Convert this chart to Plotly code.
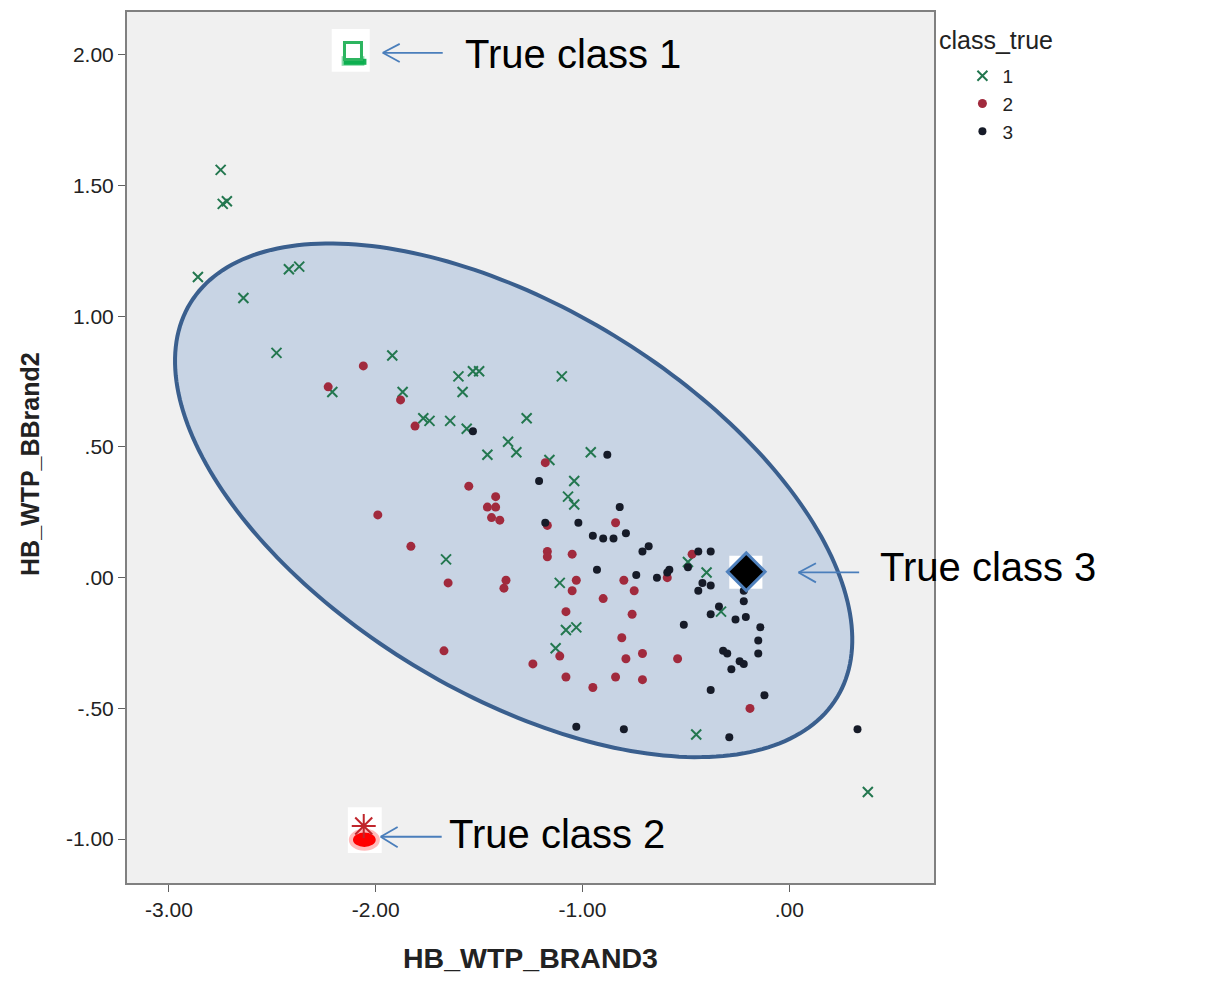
import numpy as np
import plotly.graph_objects as go

# ---------------- data ----------------
c1_x = [-2.75, -2.74, -2.72, -2.86, -2.64, -2.42, -2.37, -2.48, -1.92, -2.21, -1.87, -1.77, -1.74,
        -1.60, -1.53, -1.50, -1.58, -1.10, -1.64, -1.56, -1.27, -1.36, -1.32, -1.46, -1.16, -0.96,
        -1.04, -1.07, -1.04, -1.66, -1.11, -1.08, -1.03, -1.13, -0.49, -0.40, -0.33, -0.45, 0.38]
c1_y = [1.56, 1.43, 1.44, 1.15, 1.07, 1.18, 1.19, 0.86, 0.85, 0.71, 0.71, 0.61, 0.60,
        0.77, 0.79, 0.79, 0.71, 0.77, 0.60, 0.57, 0.61, 0.52, 0.48, 0.47, 0.45, 0.48,
        0.37, 0.31, 0.28, 0.07, -0.02, -0.20, -0.19, -0.27, 0.06, 0.02, -0.13, -0.60, -0.82]

c2_x = [-2.06, -2.23, -1.88, -1.81, -1.55, -1.42, -1.46, -1.42, -1.44, -1.40, -1.99, -1.18, -0.84,
        -1.17, -1.83, -1.17, -1.17, -1.05, -1.03, -1.05, -0.80, -0.75, -0.90, -1.08, -0.76, -1.65,
        -1.37, -1.38, -0.81, -1.11, -0.71, -0.79, -0.54, -1.24, -1.67, -1.08, -0.84, -0.71, -0.95,
        -0.19, -0.47, -0.59]
c2_y = [0.81, 0.73, 0.68, 0.58, 0.35, 0.31, 0.27, 0.27, 0.23, 0.22, 0.24, 0.44, 0.21,
        0.20, 0.12, 0.10, 0.08, 0.09, -0.01, -0.05, -0.01, -0.05, -0.08, -0.13, -0.14, -0.02,
        -0.01, -0.04, -0.23, -0.30, -0.29, -0.31, -0.31, -0.33, -0.28, -0.38, -0.38, -0.39, -0.42,
        -0.50, 0.09, 0.00]

c3_x = [-1.53, -0.88, -1.21, -0.82, -1.18, -1.02, -0.95, -0.90, -0.85, -0.79, -0.68, -0.71, -0.93,
        -0.74, -0.64, -0.58, -0.59, -0.49, -0.44, -0.38, -0.42, -0.38, -0.44, -0.22, -0.22, -0.34,
        -0.38, -0.26, -0.21, -0.51, -0.14, -0.15, -0.15, -0.32, -0.30, -0.24, -0.22, -0.28, -0.38,
        -0.12, -1.03, -0.80, -0.29, 0.33]
c3_y = [0.56, 0.47, 0.37, 0.27, 0.21, 0.21, 0.16, 0.15, 0.15, 0.17, 0.12, 0.10, 0.03,
        0.01, 0.00, 0.03, 0.02, 0.04, 0.10, 0.10, -0.02, -0.03, -0.05, -0.05, -0.09, -0.11,
        -0.14, -0.16, -0.15, -0.18, -0.19, -0.24, -0.29, -0.28, -0.29, -0.32, -0.33, -0.35, -0.43,
        -0.45, -0.57, -0.58, -0.61, -0.58]

# "true class" centroids highlighted in the picture
true_x = [-2.11, -2.058, -0.208]
true_y = [2.015, -0.95, 0.023]
true_labels = ["True class 1", "True class 2", "True class 3"]

x_tickvals = [-3, -2, -1, 0]
x_ticktext = ["-3.00", "-2.00", "-1.00", ".00"]
y_tickvals = [2, 1.5, 1, 0.5, 0, -0.5, -1]
y_ticktext = ["2.00", "1.50", "1.00", ".50", ".00", "-.50", "-1.00"]

# ellipse parameters (data units)
ell_center = (-1.333, 0.296)
ell_major = (1.564, -0.754)
ell_minor = (-0.486, -0.630)

FONT = "Liberation Sans, Arial"

# ---------------- figure ----------------
fig = go.Figure()
shapes = []

t = np.linspace(0, 2 * np.pi, 240, endpoint=False)
ex = ell_center[0] + ell_major[0] * np.cos(t) + ell_minor[0] * np.sin(t)
ey = ell_center[1] + ell_major[1] * np.cos(t) + ell_minor[1] * np.sin(t)
path = "M " + " L ".join(f"{a:.4f},{b:.4f}" for a, b in zip(ex, ey)) + " Z"
shapes.append(dict(type="path", xref="x", yref="y", path=path, fillcolor="#c8d4e4",
                   line=dict(color="#3a5f8e", width=4), layer="below"))

# white boxes behind the true-class icons
boxes = [(-2.213, -2.029, 1.935, 2.099), (-2.135, -1.971, -1.053, -0.878), (-0.290, -0.130, -0.042, 0.084)]
for x0, x1, y0, y1 in boxes:
    shapes.append(dict(type="rect", xref="x", yref="y", x0=x0, x1=x1, y0=y0, y1=y1,
                       fillcolor="white", line=dict(width=0), layer="below"))
# green glow under class 1 icon, red glow under class 2 icon
shapes.append(dict(type="rect", xref="x", yref="y", x0=-2.165, x1=-2.055, y0=1.958, y1=1.995,
                   fillcolor="rgba(40,190,100,0.55)", line=dict(width=0), layer="below"))
shapes.append(dict(type="rect", xref="x", yref="y", x0=-2.155, x1=-2.045, y0=1.962, y1=1.985,
                   fillcolor="rgba(0,170,70,0.9)", line=dict(width=0), layer="below"))
shapes.append(dict(type="circle", xref="x", yref="y", x0=-2.13, x1=-1.98, y0=-1.045, y1=-0.96,
                   fillcolor="rgba(255,60,60,0.35)", line=dict(width=0), layer="below"))
shapes.append(dict(type="circle", xref="x", yref="y", x0=-2.11, x1=-2.0, y0=-1.03, y1=-0.975,
                   fillcolor="rgba(255,0,0,1)", line=dict(width=0), layer="below"))

# arrows (open chevron heads)
arrows = [
    ((-1.676, 2.008), (-1.966, 2.008), (-1.884, 2.042), (-1.884, 1.973)),
    ((-1.681, -0.991), (-1.976, -0.991), (-1.894, -0.954), (-1.894, -1.031)),
    ((0.338, 0.020), (0.045, 0.020), (0.129, 0.055), (0.129, -0.018)),
]
for tail, tip, h1, h2 in arrows:
    for a, b in [(tail, tip), (h1, tip), (h2, tip)]:
        shapes.append(dict(type="line", xref="x", yref="y", x0=a[0], y0=a[1], x1=b[0], y1=b[1],
                           line=dict(color="#4a7ebb", width=1.8), layer="above"))

fig.update_layout(shapes=shapes)

fig.add_trace(go.Scatter(x=c1_x, y=c1_y, mode="markers", name="1",
                         marker=dict(symbol="x-thin-open", size=10,
                                     line=dict(color="#23774f", width=2), color="#23774f")))
fig.add_trace(go.Scatter(x=c2_x, y=c2_y, mode="markers", name="2",
                         marker=dict(symbol="circle", size=9, color="#a12a3d")))
fig.add_trace(go.Scatter(x=c3_x, y=c3_y, mode="markers", name="3",
                         marker=dict(symbol="circle", size=8, color="#161b28")))

# icons (drawn as traces on top)
fig.add_trace(go.Scatter(x=[true_x[0]], y=[true_y[0]], mode="markers", showlegend=False, hoverinfo="skip",
                         marker=dict(symbol="square", size=17, color="white",
                                     line=dict(color="#2db560", width=3))))
fig.add_trace(go.Scatter(x=[true_x[1]], y=[true_y[1]], mode="markers", showlegend=False, hoverinfo="skip",
                         marker=dict(symbol="asterisk-open", size=20, color="#c0262c",
                                     line=dict(color="#c0262c", width=2))))
fig.add_trace(go.Scatter(x=[true_x[2]], y=[true_y[2]], mode="markers", showlegend=False, hoverinfo="skip",
                         marker=dict(symbol="diamond", size=29, color="black",
                                     line=dict(color="#4f81bd", width=3))))

ann_pos = [(-1.580, 2.004), (-1.657, -0.981), (0.430, 0.042)]
annotations = []
for (ax_, ay_), txt in zip(ann_pos, true_labels):
    annotations.append(dict(x=ax_, y=ay_, xref="x", yref="y", text=txt, showarrow=False,
                            xanchor="left", yanchor="middle",
                            font=dict(family=FONT, size=40, color="black")))
# axis titles
annotations.append(dict(x=(530 - 127) / 807, y=-(958 - 883) / 873, xref="paper", yref="paper",
                        text="<b>HB_WTP_BRAND3</b>", showarrow=False, xanchor="center", yanchor="middle",
                        font=dict(family=FONT, size=28.5, color="#222222")))
annotations.append(dict(x=-(127 - 30) / 807, y=(883 - 463) / 873, xref="paper", yref="paper",
                        text="<b>HB_WTP_BBrand2</b>", showarrow=False, xanchor="center", yanchor="middle",
                        textangle=-90, font=dict(family=FONT, size=25, color="#222222")))
# legend title
annotations.append(dict(x=(937 - 127) / 807, y=(883 - 38) / 873, xref="paper", yref="paper",
                        text="class_true", showarrow=False, xanchor="left", yanchor="middle",
                        font=dict(family=FONT, size=25, color="#222222")))
fig.update_layout(annotations=annotations)

axis_common = dict(showgrid=False, zeroline=False, showline=True, mirror=True,
                   linecolor="#808080", linewidth=2, ticks="outside", ticklen=7,
                   tickcolor="#606060", tickwidth=1,
                   tickfont=dict(family=FONT, size=21, color="#222222"))

fig.update_xaxes(range=[-3.203, 0.700], tickvals=x_tickvals, ticktext=x_ticktext, **axis_common)
fig.update_yaxes(range=[-1.168, 2.164], tickvals=y_tickvals, ticktext=y_ticktext, **axis_common)

fig.update_layout(
    width=1223, height=999,
    margin=dict(l=127, r=289, t=10, b=116),
    paper_bgcolor="white", plot_bgcolor="#f0f0f0",
    legend=dict(x=1.003, xanchor="left", y=(883 - 55) / 873, yanchor="top",
                font=dict(family=FONT, size=19, color="#222222"),
                bgcolor="rgba(0,0,0,0)", borderwidth=0, indentation=26, tracegroupgap=0),
    showlegend=True,
)

fig.write_html("out.html")
